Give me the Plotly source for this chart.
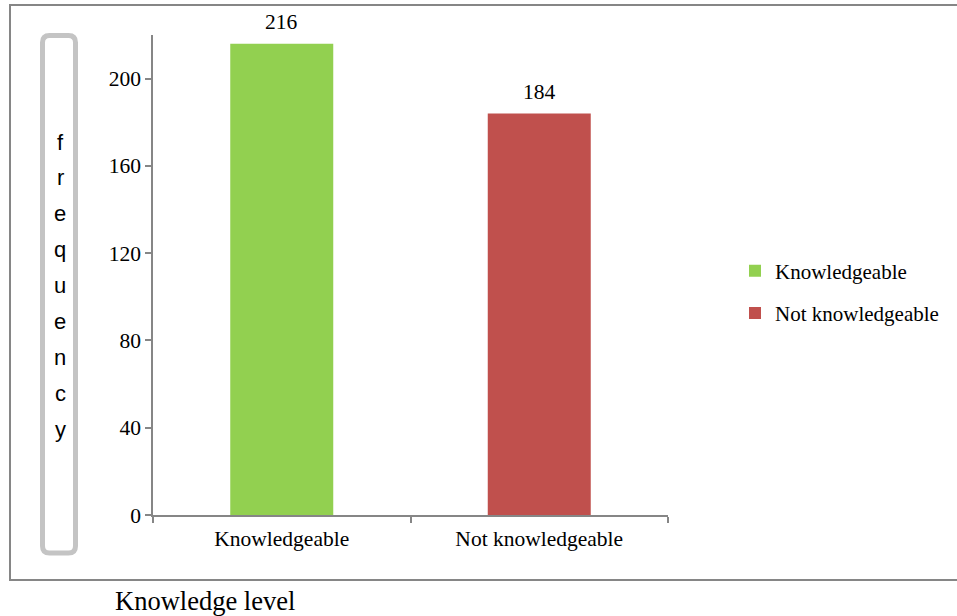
import plotly.graph_objects as go

# Survey result: number of respondents by knowledge level
categories = ["Knowledgeable", "Not knowledgeable"]
frequency = [216, 184]
bar_colors = ["#92D050", "#C0504D"]
y_ticks = [0, 40, 80, 120, 160, 200]
y_label = "frequency"
x_label = "Knowledge level"

W, H = 957, 616
L, R, T, B = 153, 289, 35, 101
PW, PH = W - L - R, H - T - B


def px(x):
    return (x - L) / PW


def py(y):
    return (H - B - y) / PH


serif = "Liberation Serif"
axis_grey = "#868686"
fs = 21.5

fig = go.Figure()
for i, (cat, val, col) in enumerate(zip(categories, frequency, bar_colors)):
    fig.add_trace(go.Bar(
        x=[cat], y=[val], name=cat, marker=dict(color=col, line=dict(width=0)),
        width=0.4, legendgroup=f"g{i}",
    ))
    # value label above each bar
    fig.add_annotation(x=cat, y=val, text=str(val), showarrow=False,
                       xanchor="center", yanchor="bottom", yshift=8,
                       font=dict(family=serif, size=fs, color="black"))

fig.update_layout(
    width=W, height=H,
    margin=dict(l=L, r=R, t=T, b=B),
    paper_bgcolor="white", plot_bgcolor="white",
    barmode="overlay",
    font=dict(family=serif, size=fs, color="black"),
    showlegend=True,
    legend=dict(x=px(735), y=py(292), xanchor="left", yanchor="middle",
                font=dict(family=serif, size=21, color="black"),
                tracegroupgap=12, itemwidth=30, bgcolor="rgba(0,0,0,0)"),
    xaxis=dict(showline=True, linecolor=axis_grey, linewidth=1.5,
               ticks="outside", ticklen=6, tickcolor=axis_grey, tickwidth=1.5,
               tickson="boundaries", showgrid=False, zeroline=False,
               ticklabelstandoff=3,
               tickfont=dict(family=serif, size=fs, color="black")),
    yaxis=dict(range=[0, 220], tickvals=y_ticks, showline=True,
               linecolor=axis_grey, linewidth=1.5, ticks="outside", ticklen=6,
               tickcolor=axis_grey, tickwidth=1.5, showgrid=False, zeroline=False,
               tickfont=dict(family=serif, size=fs, color="black")),
)

# outer chart frame (runs off the right edge)
fig.add_shape(type="rect", xref="paper", yref="paper",
              x0=px(10), x1=px(975), y0=py(580), y1=py(5),
              line=dict(color=axis_grey, width=2), layer="below")

# rounded capsule around the vertical axis label
x0, x1, y0, y1, r = 42.5, 75.5, 35.5, 553, 7
path = (f"M {px(x0 + r)},{py(y0)} L {px(x1 - r)},{py(y0)} "
        f"Q {px(x1)},{py(y0)} {px(x1)},{py(y0 + r)} "
        f"L {px(x1)},{py(y1 - r)} Q {px(x1)},{py(y1)} {px(x1 - r)},{py(y1)} "
        f"L {px(x0 + r)},{py(y1)} Q {px(x0)},{py(y1)} {px(x0)},{py(y1 - r)} "
        f"L {px(x0)},{py(y0 + r)} Q {px(x0)},{py(y0)} {px(x0 + r)},{py(y0)} Z")
fig.add_shape(type="path", xref="paper", yref="paper", path=path,
              line=dict(color="#C4C4C4", width=5))

# stacked letters of the y label
for i, ch in enumerate(y_label):
    fig.add_annotation(text=ch, xref="paper", yref="paper",
                       x=px(60), y=py(142 + 35.9 * i), showarrow=False,
                       xanchor="center", yanchor="middle",
                       font=dict(family="Liberation Sans", size=22, color="black"))

fig.add_annotation(text=x_label, xref="paper", yref="paper",
                   x=px(113), y=py(601), xanchor="left", yanchor="middle",
                   showarrow=False,
                   font=dict(family=serif, size=26.5, color="black"))

fig.write_html("out.html")
